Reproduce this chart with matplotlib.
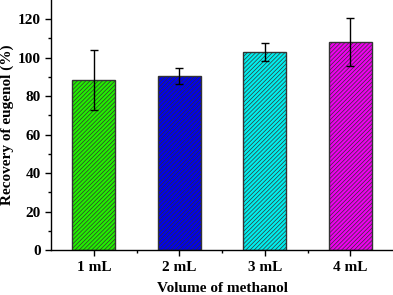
import matplotlib
matplotlib.use('Agg')
import matplotlib.pyplot as plt
import numpy as np

# dados
volumes = ['1 mL', '2 mL', '3 mL', '4 mL']
recuperacao = [88.5, 90.5, 103.0, 108.0]
erro = [15.5, 4.0, 4.5, 12.5]
cores = ['#22ee00', '#0000ee', '#00eeee', '#ee00ee']

plt.rcParams['font.family'] = ['Liberation Serif', 'DejaVu Serif']
plt.rcParams['font.weight'] = 'bold'
plt.rcParams['hatch.linewidth'] = 0.5

fig = plt.figure(figsize=(3.93, 2.95), dpi=100)
ax = fig.add_axes([0.130, 0.152, 0.870, 0.848])

x = np.arange(1, len(volumes) + 1)
barras = ax.bar(x, recuperacao, width=0.5, color=cores, edgecolor='#333333',
                linewidth=1.0, hatch='////////')
ax.errorbar(x, recuperacao, yerr=erro, fmt='none', ecolor='black',
            elinewidth=1.0, capsize=3, capthick=1.0)

ax.set_xlim(0.5, 4.5)
ax.set_ylim(0, 130)
ax.set_xticks(x)
ax.set_xticklabels(volumes, fontsize=11, fontweight='bold')
ax.set_xticks([1.5, 2.5, 3.5], minor=True)
ax.set_yticks(np.arange(0, 121, 20))
ax.set_yticks(np.arange(10, 130, 20), minor=True)
for lab in ax.get_yticklabels():
    lab.set_fontsize(11)
    lab.set_fontweight('bold')

ax.spines['top'].set_visible(False)
ax.spines['right'].set_visible(False)
ax.spines['left'].set_linewidth(1.0)
ax.spines['bottom'].set_linewidth(1.0)
ax.tick_params(which='major', direction='out', length=4, width=1.0)
ax.tick_params(which='minor', direction='out', length=2.5, width=1.0)

ax.set_xlabel('Volume of methanol', fontsize=11, fontweight='bold', labelpad=6)
ax.set_ylabel('Recovery of eugenol (%)', fontsize=11, fontweight='bold', labelpad=3)

plt.savefig('out.png', dpi=100)
